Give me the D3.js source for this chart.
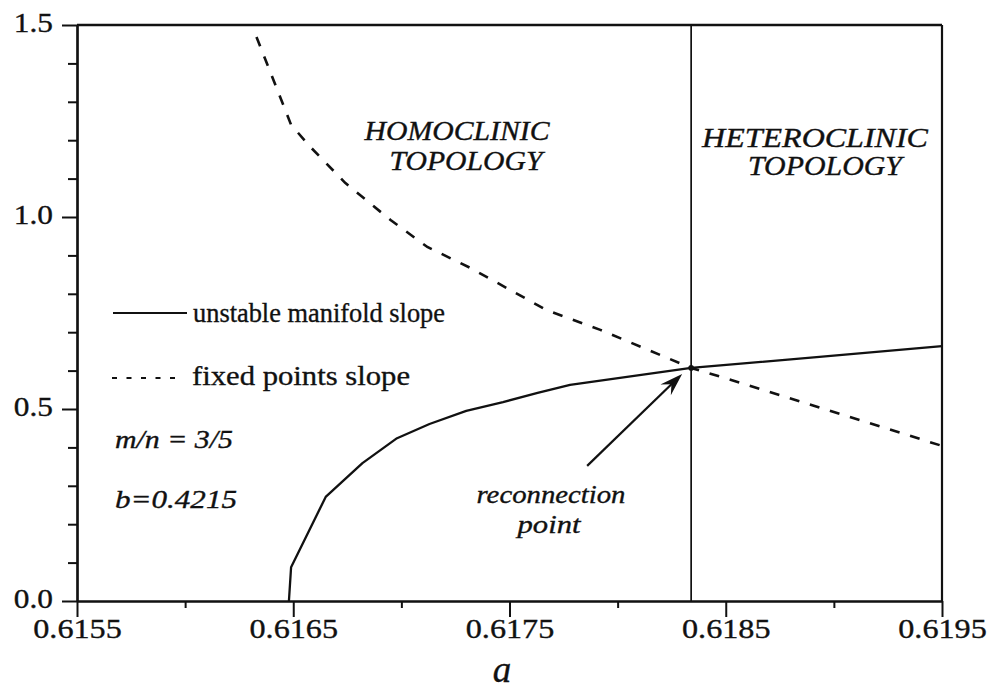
<!DOCTYPE html>
<html>
<head>
<meta charset="utf-8">
<script src="https://cdn.jsdelivr.net/npm/d3@7"></script>
<style>
  html, body { margin: 0; padding: 0; background: #fff; }
  svg { display: block; }
</style>
</head>
<body>
<svg id="chart" width="997" height="690"></svg>
<script>
// Unstable manifold slope as a function of a (solid curve)
const manifoldA     = [0.61648, 0.61649, 0.61665, 0.61682, 0.61698, 0.61713, 0.61730, 0.61747, 0.61763, 0.61778, 0.61834, 0.61857, 0.61892, 0.61950];
const manifoldSlope = [0.000,   0.088,   0.271,   0.359,   0.424,   0.461,   0.495,   0.518,   0.542,   0.563,   0.607,   0.618,   0.635,   0.664];

// Slope at the fixed points as a function of a (dashed curve)
const fixedA     = [0.61633, 0.61649, 0.61658, 0.61674, 0.61695, 0.61712, 0.61732, 0.61767, 0.61792, 0.61834, 0.61857, 0.61950];
const fixedSlope = [1.469,   1.240,   1.182,   1.089,   0.992,   0.922,   0.867,   0.758,   0.706,   0.607,   0.568,   0.404];

// Reconnection point where the two slopes coincide
const reconnectionA = 0.61834;
const reconnectionSlope = 0.607;

// Axis ticks and labels
const xMajorTicks  = [0.6155, 0.6165, 0.6175, 0.6185, 0.6195];
const xTickLabels  = ["0.6155", "0.6165", "0.6175", "0.6185", "0.6195"];
const xMinorTicks  = [0.6160, 0.6170, 0.6180, 0.6190];
const yMajorTicks  = [0.0, 0.5, 1.0, 1.5];
const yTickLabels  = ["0.0", "0.5", "1.0", "1.5"];
const yMinorTicks  = [0.1, 0.2, 0.3, 0.4, 0.6, 0.7, 0.8, 0.9, 1.1, 1.2, 1.3, 1.4];

const legendLabels = ["unstable manifold slope", "fixed points slope"];
const paramLabels  = ["m/n = 3/5", "b=0.4215"];

// ---- layout ----
const W = 997, H = 690;
const margin = { left: 77, right: 55, top: 25, bottom: 89 };
const FONT = "'Liberation Serif', 'Times New Roman', serif";
const INK = "#111";

const svg = d3.select("#chart");
svg.append("rect").attr("width", W).attr("height", H).attr("fill", "#fff");

const x = d3.scaleLinear().domain([0.6155, 0.6195]).range([margin.left, W - margin.right]);
const y = d3.scaleLinear().domain([0, 1.5]).range([H - margin.bottom, margin.top]);

// stretch a text element horizontally so the wider serif face is matched
function widen(node, factor, width) {
  const len = node.getComputedTextLength();
  const target = width != null ? width : len * factor;
  d3.select(node).attr("textLength", target).attr("lengthAdjust", "spacingAndGlyphs");
}

function text(px, py, str, opts) {
  const t = svg.append("text")
    .attr("x", px).attr("y", py)
    .attr("font-family", FONT)
    .attr("font-size", opts.size)
    .attr("font-style", opts.italic ? "italic" : "normal")
    .attr("text-anchor", opts.anchor || "start")
    .attr("fill", INK)
    .attr("stroke", INK).attr("stroke-width", 0.35)
    .text(str);
  widen(t.node(), opts.factor || 1, opts.width);
  return t;
}

// ---- axes ----
const bottomMajor = d3.axisBottom(x).tickValues(xMajorTicks)
  .tickFormat((d, i) => xTickLabels[i]).tickSize(16).tickSizeOuter(0).tickPadding(4);
const bottomMinor = d3.axisBottom(x).tickValues(xMinorTicks)
  .tickFormat("").tickSize(7).tickSizeOuter(0);
const leftMajor = d3.axisLeft(y).tickValues(yMajorTicks)
  .tickFormat((d, i) => yTickLabels[i]).tickSize(15).tickSizeOuter(0).tickPadding(9);
const leftMinor = d3.axisLeft(y).tickValues(yMinorTicks)
  .tickFormat("").tickSize(9).tickSizeOuter(0);

function styleAxis(g) {
  g.select(".domain").attr("stroke", INK).attr("stroke-width", 2.2);
  g.selectAll(".tick line").attr("stroke", INK).attr("stroke-width", 2);
  g.selectAll(".tick text").attr("fill", INK)
    .attr("stroke", INK).attr("stroke-width", 0.35)
    .attr("font-family", FONT).attr("font-size", 28);
}

svg.append("g").attr("transform", `translate(0,${y(0)})`).call(bottomMinor).call(styleAxis);
const gx = svg.append("g").attr("transform", `translate(0,${y(0)})`).call(bottomMajor).call(styleAxis);
gx.selectAll(".tick text").attr("dy", "0.71em").attr("y", 17).each(function () { widen(this, 1.15); });

svg.append("g").attr("transform", `translate(${x(0.6155)},0)`).call(leftMinor).call(styleAxis);
const gy = svg.append("g").attr("transform", `translate(${x(0.6155)},0)`).call(leftMajor).call(styleAxis);
gy.selectAll(".tick text").attr("dy", "0.22em").each(function () { widen(this, 1.12); });

// frame: top and right edges
svg.append("line")
  .attr("x1", x(0.6155)).attr("x2", x(0.6195)).attr("y1", y(1.5)).attr("y2", y(1.5))
  .attr("stroke", INK).attr("stroke-width", 2.6);
svg.append("line")
  .attr("x1", x(0.6195)).attr("x2", x(0.6195)).attr("y1", y(1.5)).attr("y2", y(0))
  .attr("stroke", INK).attr("stroke-width", 2.2);

// boundary between the homoclinic and heteroclinic regions
svg.append("line")
  .attr("x1", x(reconnectionA)).attr("x2", x(reconnectionA))
  .attr("y1", y(1.5)).attr("y2", y(0))
  .attr("stroke", INK).attr("stroke-width", 1.7);

// ---- curves ----
const line = d3.line().x(d => x(d[0])).y(d => y(d[1]));
const manifold = manifoldA.map((a, i) => [a, manifoldSlope[i]]);
const fixed = fixedA.map((a, i) => [a, fixedSlope[i]]);

svg.append("path").datum(manifold).attr("d", line)
  .attr("fill", "none").attr("stroke", INK).attr("stroke-width", 2.3)
  .attr("stroke-linejoin", "round");
svg.append("path").datum(fixed).attr("d", line)
  .attr("fill", "none").attr("stroke", INK).attr("stroke-width", 2.6)
  .attr("stroke-dasharray", "10,11");

svg.append("circle")
  .attr("cx", x(reconnectionA)).attr("cy", y(reconnectionSlope)).attr("r", 2.8)
  .attr("fill", INK);

// ---- arrow to the reconnection point ----
const tip  = [x(reconnectionA) - 9,  y(reconnectionSlope) + 6];
const tail = [x(reconnectionA) - 104, y(reconnectionSlope) + 98];
const dx = tip[0] - tail[0], dy = tip[1] - tail[1];
const L = Math.hypot(dx, dy), ux = dx / L, uy = dy / L, nx = -uy, ny = ux;
const headLen = 23, headHalf = 7.5;
svg.append("line")
  .attr("x1", tail[0]).attr("y1", tail[1])
  .attr("x2", tip[0] - ux * 12).attr("y2", tip[1] - uy * 12)
  .attr("stroke", INK).attr("stroke-width", 2.2);
svg.append("path")
  .attr("d", d3.line()([
    tip,
    [tip[0] - ux * headLen + nx * headHalf, tip[1] - uy * headLen + ny * headHalf],
    [tip[0] - ux * headLen * 0.65, tip[1] - uy * headLen * 0.65],
    [tip[0] - ux * headLen - nx * headHalf, tip[1] - uy * headLen - ny * headHalf]
  ]) + "Z")
  .attr("fill", INK);

// ---- legend ----
const lgX0 = margin.left + 36, lgX1 = margin.left + 110;
svg.append("line").attr("x1", lgX0).attr("x2", lgX1).attr("y1", 313).attr("y2", 313)
  .attr("stroke", INK).attr("stroke-width", 2);
text(lgX1 + 6, 322, legendLabels[0], { size: 28, width: 252 });
svg.append("line").attr("x1", lgX0 - 1).attr("x2", lgX1 - 5).attr("y1", 378).attr("y2", 378)
  .attr("stroke", INK).attr("stroke-width", 2).attr("stroke-dasharray", "5,9.5");
text(lgX1 + 5, 385, legendLabels[1], { size: 28, width: 218 });

text(115, 448, paramLabels[0], { size: 25, italic: true, width: 118 });
text(115, 508, paramLabels[1], { size: 26, italic: true, width: 122 });

// ---- region labels ----
text(457, 140, "HOMOCLINIC",   { size: 27, italic: true, anchor: "middle", width: 185 });
text(466, 170, "TOPOLOGY",     { size: 27, italic: true, anchor: "middle", width: 153 });
text(815, 147, "HETEROCLINIC", { size: 27, italic: true, anchor: "middle", width: 226 });
text(825, 175, "TOPOLOGY",     { size: 27, italic: true, anchor: "middle", width: 154 });

text(551, 503, "reconnection", { size: 26, italic: true, anchor: "middle", width: 149 });
text(549, 533, "point",        { size: 26, italic: true, anchor: "middle", width: 63 });

// axis title
text(502, 682, "a", { size: 37, italic: true, anchor: "middle" });
</script>
</body>
</html>
